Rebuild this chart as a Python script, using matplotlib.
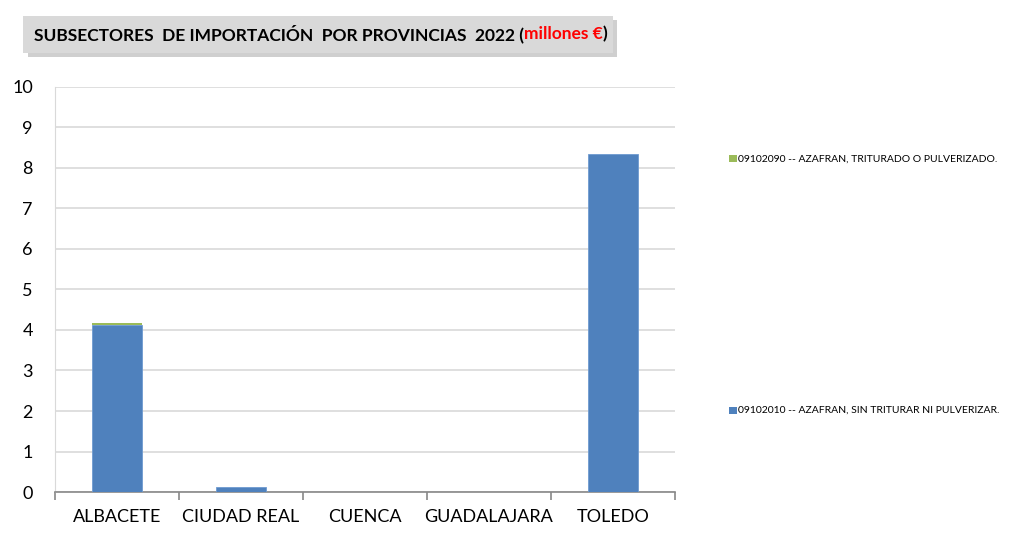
import matplotlib
matplotlib.use("Agg")
import matplotlib.pyplot as plt
from matplotlib.patches import Rectangle
import numpy as np

provincias = ["ALBACETE", "CIUDAD REAL", "CUENCA", "GUADALAJARA", "TOLEDO"]
sin_triturar = [4.12, 0.12, 0.0, 0.0, 8.35]
triturado = [0.06, 0.0, 0.0, 0.0, 0.0]
serie_sin = "09102010 -- AZAFRAN, SIN TRITURAR NI PULVERIZAR."
serie_tri = "09102090 -- AZAFRAN, TRITURADO O PULVERIZADO."

BLUE = "#4f81bd"
GREEN = "#9bbb59"
FONT = ["Lato", "DejaVu Sans"]

plt.rcParams["font.family"] = FONT

fig = plt.figure(figsize=(10.27, 5.36), dpi=100)
ax = fig.add_axes([0.0536, 0.082, 0.6036, 0.756])

x = np.arange(len(provincias))
ax.bar(x, sin_triturar, width=0.4, color=BLUE, edgecolor="#6f9bd0", linewidth=0.6, zorder=3)
ax.bar(x, triturado, width=0.4, bottom=sin_triturar, color=GREEN, zorder=3)

ax.set_xlim(-0.5, len(provincias) - 0.5)
ax.set_ylim(0, 10)
ax.set_yticks(range(0, 11))
ax.set_xticks(x)
ax.set_xticklabels(provincias, fontsize=13)
ax.tick_params(axis="x", length=0, pad=12)
ax.set_xticks(np.arange(-0.5, len(provincias)), minor=True)
ax.tick_params(axis="x", which="minor", length=6, color="#888888", width=1.2)
ax.tick_params(axis="y", length=0, labelsize=13, pad=16)

ax.grid(axis="y", color="#d9d9d9", linewidth=1.2, zorder=0)
for s in ["top", "right"]:
    ax.spines[s].set_visible(False)
ax.spines["left"].set_color("#d9d9d9")
ax.spines["bottom"].set_color("#888888")
ax.spines["bottom"].set_linewidth(1.2)

# legend entries placed separately like the original
fig.patches.append(Rectangle((0.7098, 0.697), 0.0075, 0.0135, transform=fig.transFigure,
                             facecolor=GREEN, edgecolor="none"))
fig.text(0.7185, 0.703, serie_tri, fontsize=7.5, va="center")
fig.patches.append(Rectangle((0.7098, 0.228), 0.0075, 0.0135, transform=fig.transFigure,
                             facecolor=BLUE, edgecolor="none"))
fig.text(0.7185, 0.234, serie_sin, fontsize=7.5, va="center")

# title box with shadow
fig.patches.append(Rectangle((0.027, 0.893), 0.574, 0.069, transform=fig.transFigure,
                             facecolor="#a0a0a0", edgecolor="none", alpha=0.5))
fig.patches.append(Rectangle((0.0224, 0.902), 0.574, 0.069, transform=fig.transFigure,
                             facecolor="#d9d9d9", edgecolor="none"))

fig.canvas.draw()
r = fig.canvas.get_renderer()
inv = fig.transFigure.inverted()
x0 = 0.033
parts = [("SUBSECTORES  DE IMPORTACIÓN  POR PROVINCIAS  2022 (", "black"),
         ("millones €", "red"), (")", "black")]
for txt, col in parts:
    t = fig.text(x0, 0.936, txt, fontsize=12.5, fontweight="bold", va="center", color=col)
    x0 = t.get_window_extent(renderer=r).transformed(inv).x1

fig.savefig("out.png", dpi=100)
